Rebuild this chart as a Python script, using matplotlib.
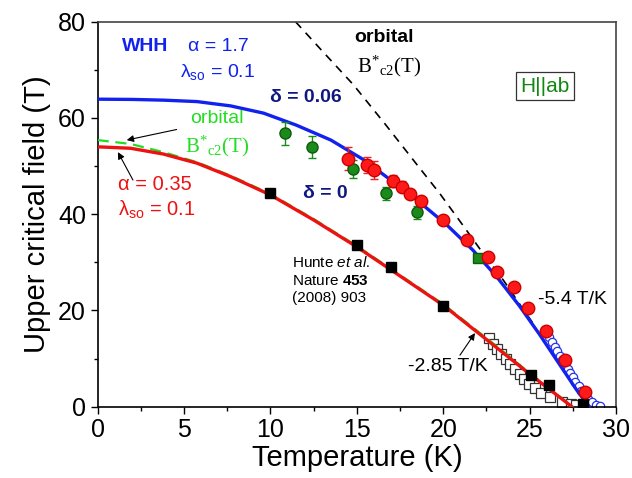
import numpy as np
import matplotlib
matplotlib.use("Agg")
import matplotlib.pyplot as plt

plt.rcParams['font.family'] = ['Liberation Sans', 'DejaVu Sans']
plt.rcParams['mathtext.fontset'] = 'custom'
plt.rcParams['mathtext.rm'] = 'Liberation Serif'
plt.rcParams['mathtext.it'] = 'Liberation Sans:italic'
plt.rcParams['mathtext.bf'] = 'Liberation Sans:bold'

# ------------- DATA -------------
# WHH fit, alpha = 1.7 (blue)
whh_T = [0, 2.0, 3.8, 5.75, 7.7, 9.6, 11.5, 13.5, 15.4, 16.7, 18.26, 20.2, 21.7, 23.1, 24.4, 25.6, 26.75, 27.7, 28.45]
whh_B = [63.9, 63.85, 63.7, 63.4, 62.5, 61.0, 58.5, 55.4, 51.3, 47.8, 43.6, 37.8, 32.6, 27.0, 21.0, 14.9, 8.7, 3.6, 0]

# WHH fit, alpha = 0.35 (red)
red_T = [0, 1.9, 3.8, 5.75, 7.7, 10.0, 12.5, 15.0, 16.7, 20.0, 22.7, 25.0, 27.45]
red_B = [54.0, 53.7, 52.5, 50.6, 47.8, 44.0, 38.8, 33.2, 29.1, 21.1, 13.4, 6.8, 0]

# orbital limit for the red fit (green dashed)
orb_g_T = [0, 1.9, 3.8, 5.75, 7.7, 10.0, 12.5, 15.0, 16.7, 20.0, 22.7, 25.0, 27.45]
orb_g_B = [55.4, 54.6, 52.9, 50.8, 48.0, 44.2, 39.0, 33.4, 29.3, 21.3, 13.7, 7.0, 0.1]

# orbital limit for the blue fit (black dashed)
orb_k_T = [11.45, 13.0, 14.8, 16.6, 18.26, 19.8, 21.2, 22.3, 23.5, 24.6, 25.3]
orb_k_B = [80, 73.9, 66.9, 58.9, 51.3, 44.3, 37.4, 31.9, 26.2, 20.4, 16.8]

# red spheres
red_pts_T = [14.5, 15.6, 16.0, 17.1, 17.6, 18.1, 18.7, 20.0, 21.4, 22.6, 23.1, 24.1, 24.9, 25.95, 27.05, 28.2]
red_pts_B = [51.5, 50.2, 49.2, 46.9, 45.7, 44.2, 42.8, 38.8, 34.6, 31.2, 28.0, 24.8, 20.5, 15.7, 9.8, 3.0]
red_pts_err = [2.4, 1.7, 1.9, 1.2, 1.1, 0, 0, 0, 0, 0, 0, 0, 0, 0, 0, 0]

# green spheres
green_T = [10.85, 12.4, 14.8, 16.7, 18.5]
green_B = [56.8, 54.0, 49.4, 44.3, 40.4]
green_err = [2.4, 2.3, 1.9, 1.4, 1.4]
green_sq_T = [22.0]
green_sq_B = [31.0]

# filled black squares
black_T = [10.0, 15.0, 17.0, 20.0, 25.1, 26.1, 28.1]
black_B = [44.5, 33.6, 29.0, 20.9, 6.5, 4.6, 0.5]

# open squares (Hunte et al.)
open_sq_T = [22.64, 22.86, 23.09, 23.34, 23.61, 23.86, 24.15, 24.44, 24.69, 24.98, 25.31, 25.64, 26.2, 26.85, 27.4, 27.7]
open_sq_B = [14.2, 13.0, 11.9, 10.9, 9.85, 8.8, 7.8, 6.7, 5.7, 4.65, 3.8, 2.9, 1.95, 1.0, 0.5, 0.4]

# open blue circles
open_c_T = [26.0, 26.15, 26.3, 26.45, 26.6, 26.75, 26.9, 27.05, 27.2, 27.35, 27.5, 27.65, 27.85, 28.0, 28.2, 28.4, 28.6, 28.85, 29.1]
open_c_B = [15.5, 14.5, 13.5, 12.5, 11.5, 10.6, 9.7, 8.8, 7.9, 7.0, 6.1, 5.2, 4.2, 3.3, 2.4, 1.6, 0.9, 0.4, 0.2]

# ------------- PLOT -------------
fig = plt.figure(figsize=(6.32, 4.78), dpi=100)
ax = fig.add_axes([0.1546, 0.1492, 0.82, 0.8054])

ax.plot(orb_k_T, orb_k_B, color='k', lw=1.2, ls=(0, (5, 4)), zorder=2)
ax.plot(open_sq_T, open_sq_B, ls='none', marker='s', ms=7, mfc='white', mec='#333333', mew=0.9, zorder=2)
ax.plot(open_c_T, open_c_B, ls='none', marker='o', ms=6, mfc='white', mec='#2233ee', mew=0.9, zorder=2)
ax.plot(orb_g_T, orb_g_B, color='#22dd22', lw=1.6, ls=(0, (5, 3)), zorder=3)
ax.plot(red_T, red_B, color='#ee1111', lw=2.4, zorder=4)
ax.plot(whh_T, whh_B, color='#1122ee', lw=2.4, zorder=4)

ax.errorbar(green_T, green_B, yerr=green_err, ls='none', marker='o', ms=8,
            mfc='#1a8a1a', mec='#0d5c0d', ecolor='#1a8a1a', elinewidth=1, capsize=3, zorder=5)
ax.plot(green_sq_T, green_sq_B, ls='none', marker='s', ms=7, mfc='#1a8a1a', mec='#0d5c0d', zorder=5)
ax.errorbar(red_pts_T, red_pts_B, yerr=red_pts_err, ls='none', marker='o', ms=9,
            mfc='#ff1a1a', mec='#cc0000', ecolor='#ee2222', elinewidth=1, capsize=3, zorder=5)
ax.plot(black_T, black_B, ls='none', marker='s', ms=7, mfc='black', mec='black', zorder=5)

# ------------- TEXT -------------
bstar = r'$\mathrm{B^{*}{}_{c2}(T)}$'
ax.text(1.4, 74.8, 'WHH', color='#1122ee', fontsize=14, fontweight='bold', va='center')
ax.text(5.2, 74.8, 'α = 1.7', color='#1122ee', fontsize=14, va='center')
ax.text(4.76, 69.6, 'λ$_{\\mathregular{so}}$ = 0.1', color='#1122ee', fontsize=14, va='center')
ax.text(9.97, 64.3, 'δ = 0.06', color='#101880', fontsize=14, fontweight='bold', va='center')
ax.text(11.9, 44.4, 'δ = 0', color='#101880', fontsize=14, fontweight='bold', va='center')

ax.text(14.85, 76.8, 'orbital', color='k', fontsize=14, fontweight='bold', va='center')
ax.text(15.0, 70.7, bstar, color='k', fontsize=15, va='center')

ax.text(5.34, 59.9, 'orbital', color='#22dd22', fontsize=14, va='center')
ax.text(5.05, 54.0, bstar, color='#22dd22', fontsize=15, va='center')

ax.text(1.19, 46.1, 'α = 0.35', color='#ee1111', fontsize=14.5, va='center')
ax.text(1.19, 40.9, 'λ$_{\\mathregular{so}}$ = 0.1', color='#ee1111', fontsize=14.5, va='center')

ax.text(25.9, 66.6, 'H||ab', color='#118811', fontsize=15, ha='center', va='center',
        bbox=dict(boxstyle='square,pad=0.22', fc='white', ec='#333333', lw=0.9))

ax.text(11.24, 29.9, 'Hunte $\\mathit{et\\ al.}$', color='k', fontsize=11, va='center')
ax.text(11.24, 26.1, 'Nature $\\mathbf{453}$', color='k', fontsize=11, va='center')
ax.text(11.24, 22.6, '(2008) 903', color='k', fontsize=11, va='center')

ax.text(25.5, 22.3, '-5.4 T/K', color='k', fontsize=14, va='center')
ax.text(17.97, 8.3, '-2.85 T/K', color='k', fontsize=14, va='center')

arrow = dict(arrowstyle='-|>', color='k', lw=0.8, mutation_scale=10, shrinkA=0, shrinkB=0)
ax.annotate('', xy=(1.68, 55.4), xytext=(4.57, 57.6), arrowprops=arrow)
ax.annotate('', xy=(1.17, 52.9), xytext=(2.04, 47.1), arrowprops=arrow)
ax.annotate('', xy=(21.84, 15.3), xytext=(20.97, 10.7), arrowprops=arrow)

# ------------- AXES -------------
ax.set_xlim(0, 30)
ax.set_ylim(0, 80)
ax.set_xticks([0, 5, 10, 15, 20, 25, 30])
ax.set_xticks(np.arange(2.5, 30, 5), minor=True)
ax.set_yticks([0, 20, 40, 60, 80])
ax.set_yticks([10, 30, 50, 70], minor=True)
ax.tick_params(which='major', direction='out', length=5, width=1, labelsize=18, top=False, right=False)
ax.tick_params(which='minor', direction='out', length=3, width=1, top=False, right=False)
ax.set_xlabel('Temperature (K)', fontsize=21, labelpad=1)
ax.set_ylabel('Upper critical field (T)', fontsize=21, labelpad=5)
for s in ['left', 'bottom']:
    ax.spines[s].set_linewidth(1.2)
for s in ['top', 'right']:
    ax.spines[s].set_linewidth(1.2)
    ax.spines[s].set_color('#444444')

fig.savefig('out.png', dpi=100)
